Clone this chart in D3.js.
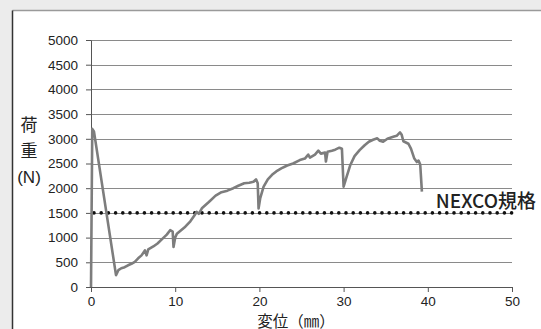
<!DOCTYPE html>
<html>
<head>
<meta charset="utf-8">
<script src="https://cdn.jsdelivr.net/npm/d3@7"></script>
<style>
  body { margin: 0; background: #ececec; }
  svg { display: block; }
  text { font-family: "Liberation Sans", Arimo, Arial, sans-serif; fill: #222; }
  .jp { font-family: "Noto Sans CJK JP", sans-serif; }
</style>
</head>
<body>
<div class="container"></div>
<script>
// displacement (mm) and load (N)
const displacement = [0, 0.15, 0.35, 2.97, 3.25, 3.6, 4.0, 4.4, 4.8, 5.2, 5.6, 6.0, 6.4, 6.6, 6.8, 7.4, 7.9, 8.5, 9.0, 9.4, 9.7, 9.8, 10.0, 10.2, 10.7, 11.2, 11.8, 12.3, 12.55, 12.8, 13.2, 14.0, 14.8, 15.5, 16.2, 16.9, 17.5, 18.2, 18.8, 19.3, 19.6, 19.8, 19.9, 20.1, 20.5, 21.0, 21.5, 22.0, 22.6, 23.3, 24.0, 24.8, 25.4, 25.8, 26.0, 26.6, 27.0, 27.3, 27.8, 27.9, 28.1, 28.6, 29.0, 29.5, 29.8, 30.0, 30.3, 30.8, 31.3, 31.9, 32.5, 33.0, 33.5, 34.0, 34.3, 34.7, 35.2, 35.9, 36.3, 36.7, 36.9, 37.1, 37.7, 38.0, 38.4, 38.7, 38.9, 39.1, 39.3];
const load = [0, 3200, 3150, 240, 340, 380, 400, 440, 470, 510, 580, 640, 740, 640, 760, 820, 880, 980, 1060, 1150, 1120, 810, 1000, 1080, 1150, 1220, 1330, 1450, 1520, 1480, 1600, 1720, 1850, 1920, 1950, 2000, 2050, 2100, 2110, 2130, 2180, 2100, 1590, 1800, 2030, 2180, 2270, 2340, 2400, 2460, 2500, 2570, 2600, 2680, 2620, 2680, 2760, 2700, 2720, 2540, 2740, 2760, 2780, 2820, 2800, 2030, 2200, 2470, 2650, 2770, 2870, 2940, 2980, 3010, 2960, 2940, 3000, 3040, 3060, 3130, 3080, 2950, 2900, 2800, 2600, 2530, 2560, 2480, 1930];
const xTicks = [0, 10, 20, 30, 40, 50];
const yTicks = [0, 500, 1000, 1500, 2000, 2500, 3000, 3500, 4000, 4500, 5000];
const standardLoad = 1500;
const standardLabel = "NEXCO規格";
const xTitle = "変位（㎜）";
const yTitle = ["荷", "重", "(N)"];

const WIDTH = 541, HEIGHT = 329;
const MARGIN = { left: 91, right: 29, top: 40, bottom: 42 };

const data = displacement.map((d, i) => ({ x: d, y: load[i] }));

const xScale = d3.scaleLinear().domain([0, 50]).range([MARGIN.left, WIDTH - MARGIN.right]);
const yScale = d3.scaleLinear().domain([0, 5000]).range([HEIGHT - MARGIN.bottom, MARGIN.top]);

const svg = d3.select(".container").append("svg")
  .attr("width", WIDTH).attr("height", HEIGHT)
  .attr("viewBox", [0, 0, WIDTH, HEIGHT]);

// panel
svg.append("rect").attr("x", 12.5).attr("y", 10.5).attr("width", WIDTH).attr("height", HEIGHT)
  .attr("fill", "#fff");
svg.append("line").attr("x1", 12.5).attr("x2", WIDTH).attr("y1", 10.5).attr("y2", 10.5)
  .attr("stroke", "#9a9a9a").attr("stroke-width", 1.5);
svg.append("line").attr("x1", 12.5).attr("x2", 12.5).attr("y1", 10.5).attr("y2", HEIGHT)
  .attr("stroke", "#333").attr("stroke-width", 1.5);

// gridlines
svg.append("g").attr("stroke", "#8a8a8a").attr("stroke-width", 1)
  .selectAll("line").data(yTicks.filter(t => t > 0)).join("line")
  .attr("x1", xScale(0)).attr("x2", xScale(50))
  .attr("y1", d => Math.round(yScale(d)) + 0.5).attr("y2", d => Math.round(yScale(d)) + 0.5);

// axes
const yAxis = svg.append("g")
  .attr("transform", `translate(${xScale(0)},0)`)
  .call(d3.axisLeft(yScale).tickValues(yTicks).tickFormat(d3.format("d"))
    .tickSize(5).tickPadding(8).tickSizeOuter(0));
const xAxis = svg.append("g")
  .attr("transform", `translate(0,${yScale(0)})`)
  .call(d3.axisBottom(xScale).tickValues(xTicks).tickFormat(d3.format("d"))
    .tickSize(5).tickPadding(4).tickSizeOuter(0));
[xAxis, yAxis].forEach(g => {
  g.selectAll("path, line").attr("stroke", "#555");
  g.selectAll("text").attr("font-size", 13.5).attr("fill", "#222");
});

// standard line
svg.append("line")
  .attr("x1", xScale(0) + 3).attr("x2", xScale(50))
  .attr("y1", yScale(standardLoad)).attr("y2", yScale(standardLoad))
  .attr("stroke", "#111").attr("stroke-width", 3.6)
  .attr("stroke-linecap", "round").attr("stroke-dasharray", "0 7.2");

// load curve
svg.append("path").datum(data)
  .attr("fill", "none").attr("stroke", "#7d7d7d").attr("stroke-width", 2.6)
  .attr("stroke-linejoin", "round")
  .attr("d", d3.line().x(d => xScale(d.x)).y(d => yScale(d.y)));

// labels
svg.append("text").attr("class", "jp")
  .attr("x", 536).attr("y", yScale(standardLoad) - 5)
  .attr("text-anchor", "end").attr("font-size", 19).attr("font-weight", 500)
  .text(standardLabel);

svg.append("text").attr("class", "jp")
  .attr("x", 296).attr("y", 326.5)
  .attr("text-anchor", "middle").attr("font-size", 15.5)
  .text(xTitle);

svg.append("g").selectAll("text").data(yTitle).join("text")
  .attr("class", (d, i) => i < 2 ? "jp" : null)
  .attr("x", 29).attr("y", (d, i) => 131 + i * 26)
  .attr("text-anchor", "middle").attr("font-size", 17)
  .text(d => d);
</script>
</body>
</html>
